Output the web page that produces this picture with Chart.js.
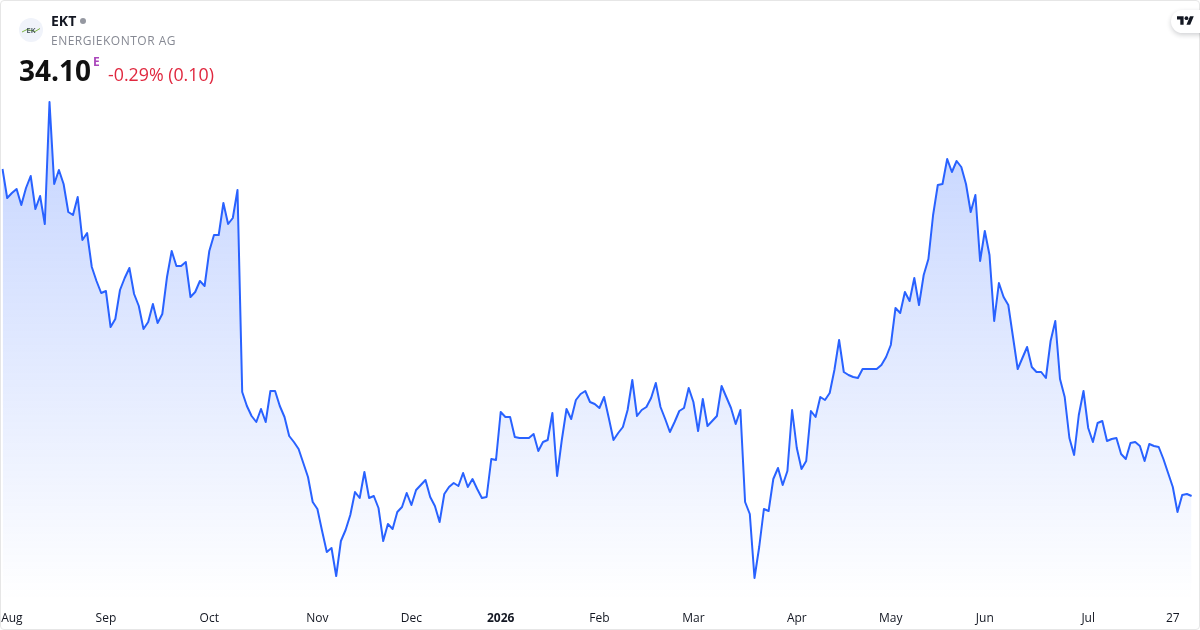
<!DOCTYPE html>
<html>
<head>
<meta charset="utf-8">
<title>EKT</title>
<script src="https://cdn.jsdelivr.net/npm/chart.js@4"></script>
<style>
	html, body { margin: 0; padding: 0; background: #fff; width: 1200px; height: 630px; overflow: hidden; }
	body { position: relative; font-family: "Open Sans", sans-serif; }
	canvas { position: absolute; left: 0; top: 0; }
	.frame { position: absolute; left: 0; top: 0; width: 1198px; height: 628px; border: 1px solid #e6e6e6; border-radius: 4px; pointer-events: none; }
	.txt { position: absolute; white-space: nowrap; line-height: 1; }
	.logo { position: absolute; left: 19px; top: 18px; width: 24px; height: 24px; border-radius: 50%; background: #f0f3fa; }
	.dot { position: absolute; left: 80px; top: 18px; width: 6px; height: 6px; border-radius: 50%; background: #9598a1; }
	.tv { position: absolute; left: 1171px; top: 10px; width: 40px; height: 23px; border-radius: 12px; background: #fff; box-shadow: 0 2px 5px rgba(19, 23, 34, 0.2); }
</style>
</head>
<body>
<canvas id="myChart" width="1200" height="630"></canvas>
<div class="frame"></div>

<div class="logo">
	<svg width="24" height="24" viewBox="0 0 24 24">
		<path d="M3 14 L8 11.5 L16 13.5 L21 10.5" fill="none" stroke="#7cb342" stroke-width="1"></path>
		<text x="12" y="15" text-anchor="middle" font-family="Open Sans" font-size="7.5" font-weight="600" fill="#37474f">EK</text>
	</svg>
</div>
<div class="txt" style="left:51px;top:14px;font-size:14px;font-weight:700;color:#131722">EKT</div>
<div class="dot"></div>
<div class="txt" style="left:51px;top:35px;font-size:12px;letter-spacing:0.5px;color:#868993">ENERGIEKONTOR AG</div>
<div class="txt" style="left:19px;top:56px;font-size:28px;font-weight:700;color:#111111">34.10</div>
<div class="txt" style="left:93px;top:56px;font-size:12px;font-weight:700;color:#ab47bc">E</div>
<div class="txt" style="left:108px;top:66px;font-size:17.8px;color:#e0283f">-0.29% (0.10)</div>

<div class="tv">
	<svg style="position:absolute;left:6px;top:5px" width="17" height="11" viewBox="0 0 36 22">
		<path d="M14 20H7V9H0V2h14v18zM28 20h-8l7.5-18h8L28 20z" fill="#131722"></path>
		<circle cx="20" cy="6" r="4" fill="#131722"></circle>
	</svg>
</div>

<script>
// Values
const prices = [
	50.45, 49.00, 49.25, 49.45, 48.65, 49.50, 50.10, 48.45, 49.10, 47.70,
	53.80, 49.70, 50.40, 49.70, 48.30, 48.15, 49.05, 46.90, 47.25, 45.55,
	44.85, 44.25, 44.35, 42.55, 42.95, 44.40, 45.00, 45.50, 44.20, 43.60,
	42.45, 42.80, 43.70, 42.75, 43.20, 45.05, 46.35, 45.60, 45.60, 45.80,
	44.05, 44.30, 44.85, 44.60, 46.35, 47.15, 47.15, 48.75, 47.70, 48.00,
	49.40, 39.30, 38.60, 38.10, 37.80, 38.45, 37.80, 39.35, 39.35, 38.60,
	38.05, 37.10, 36.80, 36.45, 35.75, 35.05, 33.80, 33.45, 32.35, 31.30,
	31.50, 30.10, 31.85, 32.40, 33.15, 34.30, 34.00, 35.30, 34.00, 34.10,
	33.50, 31.85, 32.70, 32.45, 33.30, 33.55, 34.25, 33.65, 34.40, 34.65,
	34.90, 34.05, 33.60, 32.80, 34.20, 34.55, 34.75, 34.60, 35.25, 34.55,
	34.95, 34.45, 34.00, 34.05, 35.95, 35.90, 38.30, 38.05, 38.05, 37.05,
	37.00, 37.00, 37.00, 37.20, 36.35, 36.80, 36.90, 38.25, 35.10, 36.90,
	38.45, 37.95, 38.90, 39.20, 39.35, 38.80, 38.70, 38.50, 39.05, 38.00,
	36.90, 37.25, 37.55, 38.40, 39.90, 38.10, 38.40, 38.55, 39.00, 39.75,
	38.55, 37.95, 37.30, 37.80, 38.35, 38.50, 39.50, 38.80, 37.35, 38.95,
	37.60, 37.85, 38.10, 39.60, 39.05, 38.50, 37.70, 38.40, 33.80, 33.20,
	30.00, 31.55, 33.45, 33.35, 34.95, 35.50, 34.65, 35.35, 38.40, 36.50,
	35.45, 35.85, 38.35, 38.05, 39.05, 38.90, 39.25, 40.40, 41.90, 40.30,
	40.15, 40.05, 40.00, 40.45, 40.45, 40.45, 40.45, 40.65, 41.05, 41.65,
	43.50, 43.25, 44.30, 43.85, 45.00, 43.65, 45.15, 45.95, 48.15, 49.65,
	49.70, 50.95, 50.30, 50.85, 50.55, 49.70, 48.30, 49.15, 45.85, 47.35,
	46.15, 42.85, 44.75, 44.05, 43.65, 42.05, 40.45, 41.00, 41.55, 40.55,
	40.30, 40.30, 40.00, 41.85, 42.85, 39.95, 39.05, 37.00, 36.15, 38.15,
	39.35, 37.50, 36.80, 37.75, 37.85, 36.85, 36.95, 37.00, 36.20, 35.95,
	36.75, 36.80, 36.60, 35.85, 36.70, 36.60, 36.55, 35.95, 35.25, 34.55,
	33.30, 34.15, 34.20, 34.10
];

// Bottom axis labels and the session each one sits on
const tickNames = ["Aug", "Sep", "Oct", "Nov", "Dec", "2026", "Feb", "Mar", "Apr", "May", "Jun", "Jul", "27"];
const tickIndex = [2, 22, 44, 67, 87, 106, 127, 147, 169, 189, 209, 231, 249];

const labels = prices.map((p, i) => {
	const at = tickIndex.indexOf(i);
	return at >= 0 ? tickNames[at] : "";
});

var ctx = document.getElementById("myChart").getContext("2d");

// Area fill, strongest at the top of the series
var fillGradient = ctx.createLinearGradient(0, 103, 0, 600);
fillGradient.addColorStop(0, "rgba(41, 98, 255, 0.28)");
fillGradient.addColorStop(1, "rgba(41, 98, 255, 0)");

var myChart = new Chart(ctx, {
	type: "line",
	data: {
		labels: labels,
		datasets: [
			{
				data: prices,
				borderColor: "#2962FF",
				borderWidth: 2,
				backgroundColor: fillGradient,
				fill: "start",
				tension: 0,
				pointRadius: 0,
				borderJoinStyle: "round",
			},
		],
	},
	options: {
		responsive: false,
		animation: false,
		layout: {
			padding: { left: 2.5, right: 8.4, top: 0, bottom: 0 },
		},
		plugins: {
			legend: { display: false },
			tooltip: { enabled: false },
		},
		scales: {
			y: {
				display: false,
				min: 28.9,
				max: 58.9,
			},
			x: {
				offset: false,
				afterFit: function (axis) {
					axis.height = 30;
					// no extra room for the outer labels
					axis.paddingLeft = 0;
					axis.paddingRight = 0;
				},
				grid: { display: false, drawBorder: false },
				border: { display: false },
				ticks: {
					autoSkip: false,
					maxRotation: 0,
					minRotation: 0,
					padding: 3,
					color: "#131722",
					font: function (c) {
						const bold = c.tick && c.tick.label === "2026";
						return { family: "Open Sans", size: 12, weight: bold ? "700" : "400" };
					},
				},
			},
		},
	},
});
</script>
</body>
</html>
